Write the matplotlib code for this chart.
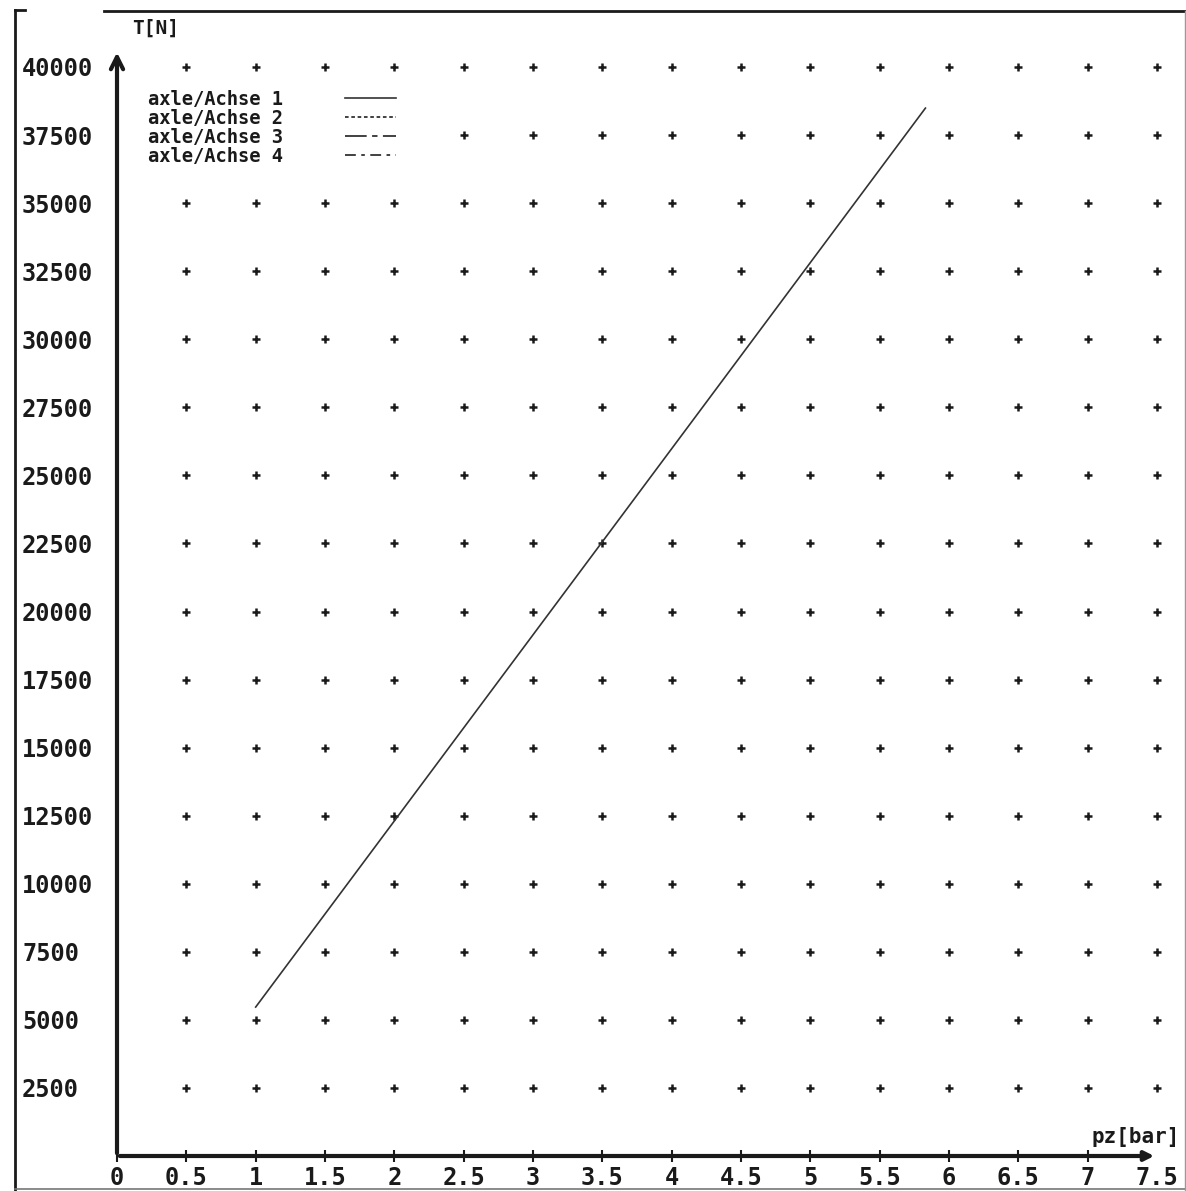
import matplotlib
matplotlib.use('Agg')
import matplotlib.pyplot as plt
from matplotlib.lines import Line2D
import numpy as np

# data
pz_ticks = [0, 0.5, 1, 1.5, 2, 2.5, 3, 3.5, 4, 4.5, 5, 5.5, 6, 6.5, 7, 7.5]
T_ticks = [2500, 5000, 7500, 10000, 12500, 15000, 17500, 20000, 22500, 25000,
           27500, 30000, 32500, 35000, 37500, 40000]
pz_axle1 = [1.0, 5.83]
T_axle1 = [5470, 38490]
pz_axle2, T_axle2 = [], []
pz_axle3, T_axle3 = [], []
pz_axle4, T_axle4 = [], []

ink = '#1a1a1a'
mono = 'DejaVu Sans Mono'

W, H = 1186, 1191
fig = plt.figure(figsize=(W / 100, H / 100), dpi=100)
ax = fig.add_axes([117 / W, (H - 1156) / H, 1040 / W, (1156 - 67) / H])
ax.set_xlim(0, 7.5)
ax.set_ylim(0, 40000)
for s in ax.spines.values():
    s.set_visible(False)

# grid of + marks
gx, gy = np.meshgrid(pz_ticks[1:], T_ticks)
ax.plot(gx.ravel(), gy.ravel(), '+', color=ink, ms=6, mew=1.8, clip_on=False, zorder=1)

ax.plot(pz_axle1, T_axle1, '-', color='#333333', lw=1.2, label='axle/Achse 1')
ax.plot(pz_axle2, T_axle2, color='#333333', lw=1.3, ls=(0, (2, 1.5)), label='axle/Achse 2')
ax.plot(pz_axle3, T_axle3, color='#333333', lw=1.3, ls=(0, (12, 3, 3, 3)), label='axle/Achse 3')
ax.plot(pz_axle4, T_axle4, color='#333333', lw=1.3, ls=(0, (6, 3, 2, 3)), label='axle/Achse 4')

leg = ax.legend(loc='upper left', bbox_to_anchor=(0.022, 0.987), markerfirst=False,
                frameon=True, facecolor='white', edgecolor='none', framealpha=1,
                fancybox=False, borderpad=0.45, borderaxespad=0, labelspacing=0,
                handlelength=2.7, handletextpad=3.3,
                prop={'family': mono, 'weight': 'bold', 'size': 13.5})
leg.set_zorder(5)
for t in leg.get_texts():
    t.set_color(ink)

# axes with arrows
ax.annotate('', xy=(1.0, 0), xytext=(0, 0), xycoords='axes fraction',
            arrowprops=dict(arrowstyle='-|>', color=ink, lw=3, mutation_scale=14))
ax.annotate('', xy=(0, 1.016), xytext=(0, 0), xycoords='axes fraction',
            arrowprops=dict(arrowstyle='->', color=ink, lw=3, mutation_scale=22))

ax.set_xticks(pz_ticks)
ax.set_xticklabels([('%g' % v) for v in pz_ticks], family=mono, weight='bold',
                   fontsize=17, color=ink)
ax.tick_params(axis='x', direction='inout', length=9, width=1.5, color=ink, pad=3)
# no tick mark under the arrow head
ax.xaxis.get_major_ticks()[-1].tick1line.set_visible(False)
ax.set_yticks(T_ticks)
ax.set_yticklabels([str(v) for v in T_ticks], family=mono, weight='bold',
                   fontsize=17, color=ink, ha='left')
ax.tick_params(axis='y', length=0, pad=95 * 0.72)

ax.text(0.037, 1.027, 'T[N]', transform=ax.transAxes, family=mono, weight='bold',
        fontsize=14, color=ink, ha='center', va='bottom')
ax.text(1.022, 0.008, 'pz[bar]', transform=ax.transAxes, family=mono, weight='bold',
        fontsize=15, color=ink, ha='right', va='bottom')

# page frame
def fl(x0, y0, x1, y1, lw=2.0, c=ink):
    fig.add_artist(Line2D([x0 / W, x1 / W], [1 - y0 / H, 1 - y1 / H], color=c, lw=lw))

fl(15, 10, 15, 1190)
fl(15, 10, 25, 10)
fl(104, 11, 1186, 11)
fl(15, 1189, 1186, 1189, lw=1.2, c='#777777')
fl(1185, 11, 1185, 1190, lw=1.0, c='#999999')

fig.savefig('out.png', dpi=100)
